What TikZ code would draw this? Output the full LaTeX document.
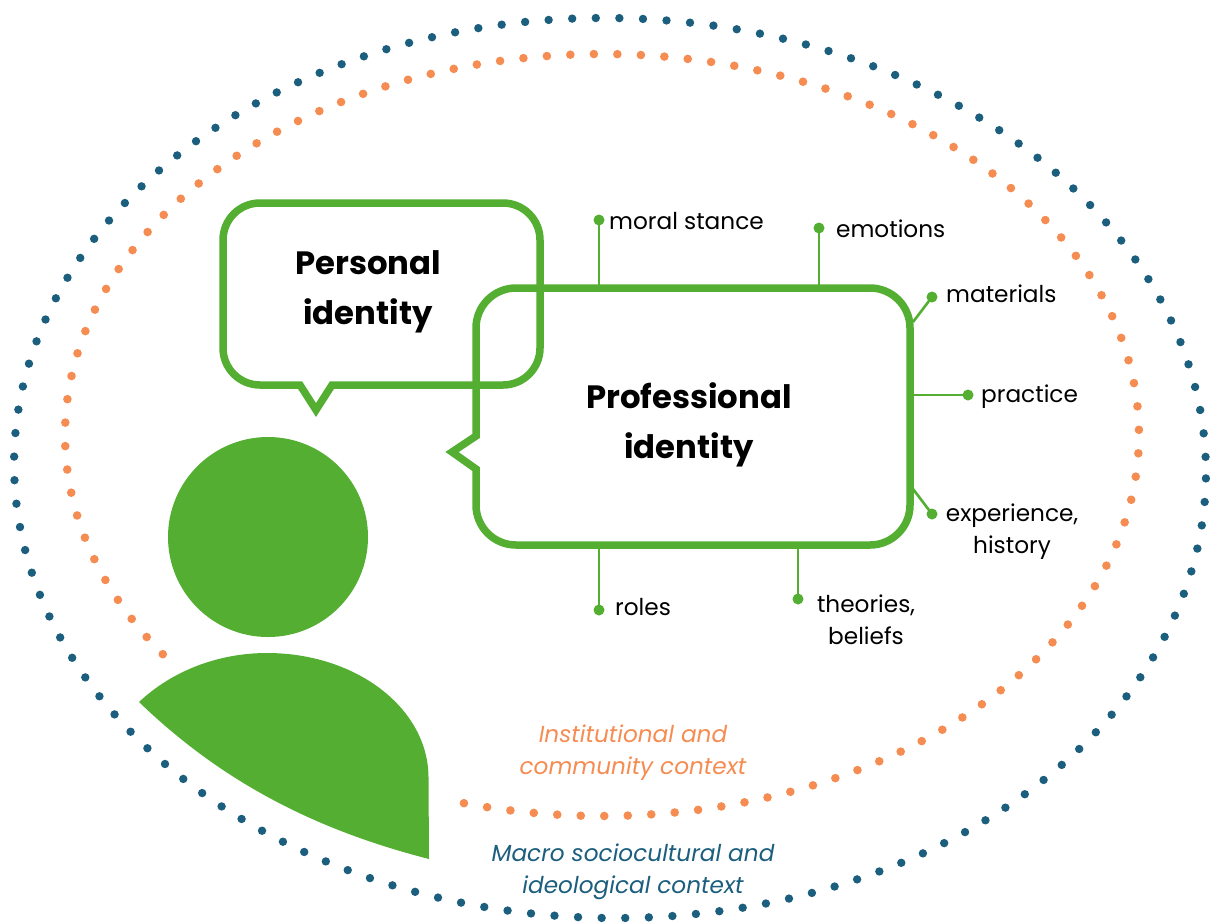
\documentclass[tikz,border=0pt]{standalone}
\usepackage{fontspec}
\setmainfont{Poppins}
\definecolor{idgreen}{HTML}{53AE32}
\definecolor{idorange}{HTML}{F58C52}
\definecolor{idblue}{HTML}{1B5E7D}
\tikzset{
  bubble/.style={draw=idgreen,line width=7.5pt,miter limit=10,line join=miter},
  lead/.style={draw=idgreen,line width=2.6pt},
  knob/.style={circle,fill=idgreen,inner sep=0pt,minimum size=11pt},
  lbl/.style={font=\fontsize{23.2}{32}\selectfont,text=black,inner sep=0pt,align=center},
  title/.style={font=\fontsize{32.3}{50}\selectfont\bfseries,text=black,inner sep=0pt,align=center},
  ctxo/.style={font=\fontsize{23.2}{32}\selectfont\itshape,text=idorange,inner sep=0pt,align=center},
  ctxb/.style={font=\fontsize{23.2}{32}\selectfont\itshape,text=idblue,inner sep=0pt,align=center},
  dotso/.style={draw=idorange,line width=8.6pt,line cap=round,dash pattern=on 0pt off 23.52pt},
  dotsb/.style={draw=idblue,line width=8.4pt,line cap=round,dash pattern=on 0pt off 23.6pt},
}
\begin{document}
\begin{tikzpicture}[x=1pt,y=-1pt]
\useasboundingbox (0,0) rectangle (1212,922);
% context rings
\draw[dotsb] plot[domain=0:360,samples=500,variable=\t,rotate around={-1:(610,468)}] ({610+596*cos(\t)},{468+450*sin(\t)});
\draw[dotso] plot[domain=104.9:-215.6,samples=500,variable=\t] ({602+537*cos(\t)},{435+381*sin(\t)});
% person
\fill[idgreen] (268,537) circle[radius=100];
\fill[idgreen] (139,702) .. controls (172,671) and (218,653) .. (267,653)
  .. controls (356,653) and (428,708) .. (428.5,777) -- (429,859)
  .. controls (320,831) and (225,785) .. (139,702) -- cycle;
% bubbles
\draw[bubble] (300,385) -- (316,410) -- (332,385) -- (503,385)
  arc[start angle=90,end angle=0,radius=37] -- (540,240)
  arc[start angle=0,end angle=-90,radius=37] -- (260,203)
  arc[start angle=-90,end angle=-180,radius=37] -- (223,348)
  arc[start angle=180,end angle=90,radius=37] -- cycle;
\draw[bubble] (476,436) -- (452,452) -- (476,469) -- (476,505)
  arc[start angle=180,end angle=90,radius=40] -- (870,545)
  arc[start angle=90,end angle=0,radius=40] -- (910,328)
  arc[start angle=0,end angle=-90,radius=40] -- (516,288)
  arc[start angle=-90,end angle=-180,radius=40] -- cycle;
% titles
\node[title] (personal) at (368,292) {Personal\\identity};
\node[title] (professional) at (689,425) {Professional\\identity};
% anchor points on the outline
\coordinate (pMoral) at (599,288);
\coordinate (pEmotions) at (819,288);
\coordinate (pMaterials) at (913,322);
\coordinate (pPractice) at (910,395);
\coordinate (pExperience) at (913,489);
\coordinate (pRoles) at (599,545);
\coordinate (pTheories) at (798,545);
% knobs
\node[knob] (kMoral) at (599,220) {};
\node[knob] (kEmotions) at (819,228) {};
\node[knob] (kMaterials) at (932,297) {};
\node[knob] (kPractice) at (968,395) {};
\node[knob] (kExperience) at (932,514) {};
\node[knob] (kRoles) at (599,610) {};
\node[knob] (kTheories) at (798,599) {};
\draw[lead] (pMoral) -- (kMoral.center);
\draw[lead] (pEmotions) -- (kEmotions.center);
\draw[lead] (pMaterials) -- (kMaterials.center);
\draw[lead] (pPractice) -- (kPractice.center);
\draw[lead] (pExperience) -- (kExperience.center);
\draw[lead] (pRoles) -- (kRoles.center);
\draw[lead] (pTheories) -- (kTheories.center);
% labels
\node[lbl,anchor=west] (lMoral) at (609,221) {moral stance};
\node[lbl,anchor=west] (lEmotions) at (836,229) {emotions};
\node[lbl,anchor=west] (lMaterials) at (946,294) {materials};
\node[lbl,anchor=west] (lPractice) at (981,397) {practice};
\node[lbl] (lExperience) at (1012,532) {experience,\\history};
\node[lbl,anchor=west] (lRoles) at (615,607) {roles};
\node[lbl] (lTheories) at (866,620) {theories,\\beliefs};
\node[ctxo] (inst) at (633,753) {Institutional and\\community context};
\node[ctxb] (macro) at (633,872) {Macro sociocultural and\\ideological context};
\end{tikzpicture}
\end{document}
